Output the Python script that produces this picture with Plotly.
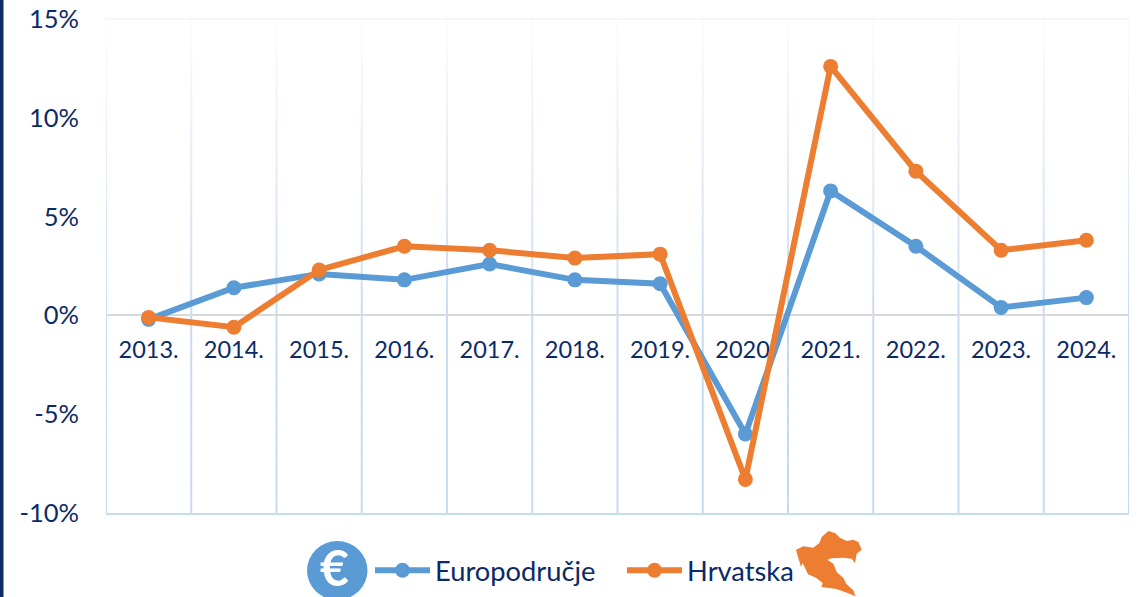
import plotly.graph_objects as go

years = ["2013.", "2014.", "2015.", "2016.", "2017.", "2018.", "2019.", "2020.", "2021.", "2022.", "2023.", "2024."]
euro_area = [-0.2, 1.4, 2.1, 1.8, 2.6, 1.8, 1.6, -6.0, 6.3, 3.5, 0.4, 0.9]
croatia = [-0.1, -0.6, 2.3, 3.5, 3.3, 2.9, 3.1, -8.3, 12.6, 7.3, 3.3, 3.8]
y_ticks = [-10, -5, 0, 5, 10, 15]
y_labels = ["-10%", "-5%", "0%", "5%", "10%", "15%"]

W, H = 1142, 597
L, R, T, B = 106, 13, 19, 84
NAVY = "#0b2a66"
BLUE = "#5b9bd5"
ORANGE = "#ed7d31"
FONT = "Lato"


def px(x):
    return (x - L) / (W - L - R)


def py(y):
    return 1 - (y - T) / (H - T - B)


fig = go.Figure()
fig.add_trace(go.Scatter(x=years, y=euro_area, name="Europodručje", mode="lines+markers",
                         line=dict(color=BLUE, width=6), marker=dict(color=BLUE, size=15)))
fig.add_trace(go.Scatter(x=years, y=croatia, name="Hrvatska", mode="lines+markers",
                         line=dict(color=ORANGE, width=6), marker=dict(color=ORANGE, size=15)))

shapes = []
# navy strip on the left edge
shapes.append(dict(type="rect", xref="paper", yref="paper", x0=px(0), x1=px(3.5), y0=py(0), y1=py(H),
                   fillcolor=NAVY, line_width=0, layer="above"))


def grid_alpha(frac):
    # frac: 0 at plot top, 1 at plot bottom
    return 0.08 + 0.92 * min(1.0, frac / 0.62)


# vertical gridlines that fade toward the top of the plot
steps = 30
for b in range(len(years) + 1):
    for i in range(steps):
        f0, f1 = i / steps, (i + 1) / steps
        shapes.append(dict(type="line", xref="x", yref="paper", x0=b - 0.5, x1=b - 0.5, y0=1 - f0, y1=1 - f1,
                           line=dict(color=f"rgba(198,218,240,{grid_alpha(f0):.3f})", width=2), layer="below"))
# faint top border
shapes.append(dict(type="line", xref="paper", yref="paper", x0=0, x1=1, y0=1, y1=1,
                   line=dict(color="rgba(198,218,240,0.2)", width=2), layer="below"))
# euro badge
shapes.append(dict(type="circle", xref="paper", yref="paper", x0=px(307), x1=px(367.5), y0=py(541), y1=py(600),
                   fillcolor=BLUE, line_width=0, layer="above"))
# Croatia silhouette
outline = [(115, 12), (135, 18), (150, 32), (170, 42), (190, 38), (205, 45), (215, 68), (200, 80), (195, 108),
           (185, 95), (160, 92), (125, 94), (112, 98), (130, 110), (140, 135), (160, 153), (170, 172), (190, 190),
           (197, 208), (175, 199), (140, 186), (94, 180), (98, 168), (78, 152), (54, 142), (38, 108), (33, 120),
           (24, 90), (18, 68), (40, 58), (70, 62), (88, 48), (95, 30)]
path = "M " + " L ".join(f"{px(790 + a / 3):.4f},{py(527 + b / 3):.4f}" for a, b in outline) + " Z"
shapes.append(dict(type="path", xref="paper", yref="paper", path=path, fillcolor=ORANGE, line_width=0, layer="above"))

fig.update_layout(
    width=W, height=H, autosize=False,
    margin=dict(l=L, r=R, t=T, b=B, pad=0, autoexpand=False),
    paper_bgcolor="white", plot_bgcolor="white",
    font=dict(family=FONT, color=NAVY, size=22),
    shapes=shapes,
    annotations=[dict(text="<b>€</b>", xref="paper", yref="paper", x=px(334), y=py(567), xanchor="center",
                      yanchor="middle", showarrow=False, font=dict(family=FONT, size=50, color="white"))],
    legend=dict(orientation="h", x=px(370), y=py(546), xanchor="left", yanchor="top",
                font=dict(size=27.3, color=NAVY), itemwidth=55, entrywidth=182, entrywidthmode="pixels",
                bgcolor="rgba(0,0,0,0)", traceorder="normal"),
    xaxis=dict(type="category", categoryorder="array", categoryarray=years,
               showgrid=False, zeroline=False,
               showline=True, linecolor="#c6daf0", linewidth=2, ticks="", layer="below traces",
               tickfont=dict(size=23.5, color=NAVY), ticklabelstandoff=-185, tickangle=0,
               range=[-0.5, 11.5], fixedrange=True),
    yaxis=dict(range=[-10, 15], tickvals=y_ticks, ticktext=y_labels, showgrid=False,
               zeroline=True, zerolinecolor="#d9d9d9", zerolinewidth=2,
               tickfont=dict(size=25.5, color=NAVY), ticklabelstandoff=26, ticks="", showline=False,
               fixedrange=True),
)

fig.write_html("out.html", config=dict(displayModeBar=False),
               post_script="document.body.style.margin='0';document.body.style.overflow='hidden';")
